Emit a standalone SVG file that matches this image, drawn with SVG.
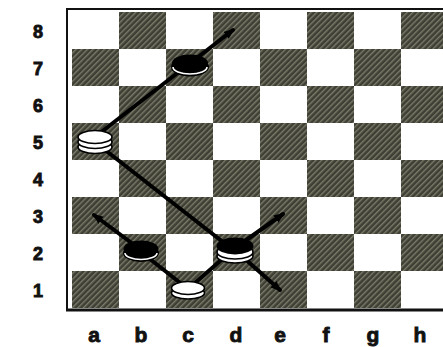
<svg xmlns="http://www.w3.org/2000/svg" width="443" height="347" viewBox="0 0 443 347">
<defs>
<pattern id="hatch" patternUnits="userSpaceOnUse" width="4" height="4" patternTransform="rotate(-45)">
<rect width="4" height="4" fill="#3e3e35"/>
<rect width="4" height="1.4" fill="#7c7c6a"/>
</pattern>
<marker id="ah" viewBox="0 0 10 8" refX="8" refY="4" markerWidth="11" markerHeight="9" markerUnits="userSpaceOnUse" orient="auto">
<path d="M0,0 L10,4 L0,8 z" fill="#000"/>
</marker>
<style>
.dk{fill:url(#hatch)}
.ln{stroke:#000;stroke-width:4;fill:none;stroke-linecap:round}
.arr{marker-end:url(#ah)}
.lbl{font-family:"Liberation Sans",Arial,sans-serif;font-weight:bold;fill:#111;stroke:#111;stroke-width:0.9;text-anchor:middle}
.dg{font-size:18px}
.lt{font-size:21px}
.wp{fill:#fff;stroke:#000;stroke-width:1.6}
.bp{fill:#000}
.ring{fill:none;stroke:#fff;stroke-width:1.6}
</style>
</defs>
<rect width="443" height="347" fill="#fff"/>
<g id="board">
<rect x="72" y="12" width="376" height="296" fill="#fff"/>
<rect class="dk" x="119" y="12" width="47" height="37"/>
<rect class="dk" x="213" y="12" width="47" height="37"/>
<rect class="dk" x="307" y="12" width="47" height="37"/>
<rect class="dk" x="401" y="12" width="47" height="37"/>
<rect class="dk" x="72" y="49" width="47" height="37"/>
<rect class="dk" x="166" y="49" width="47" height="37"/>
<rect class="dk" x="260" y="49" width="47" height="37"/>
<rect class="dk" x="354" y="49" width="47" height="37"/>
<rect class="dk" x="119" y="86" width="47" height="37"/>
<rect class="dk" x="213" y="86" width="47" height="37"/>
<rect class="dk" x="307" y="86" width="47" height="37"/>
<rect class="dk" x="401" y="86" width="47" height="37"/>
<rect class="dk" x="72" y="123" width="47" height="37"/>
<rect class="dk" x="166" y="123" width="47" height="37"/>
<rect class="dk" x="260" y="123" width="47" height="37"/>
<rect class="dk" x="354" y="123" width="47" height="37"/>
<rect class="dk" x="119" y="160" width="47" height="37"/>
<rect class="dk" x="213" y="160" width="47" height="37"/>
<rect class="dk" x="307" y="160" width="47" height="37"/>
<rect class="dk" x="401" y="160" width="47" height="37"/>
<rect class="dk" x="72" y="197" width="47" height="37"/>
<rect class="dk" x="166" y="197" width="47" height="37"/>
<rect class="dk" x="260" y="197" width="47" height="37"/>
<rect class="dk" x="354" y="197" width="47" height="37"/>
<rect class="dk" x="119" y="234" width="47" height="37"/>
<rect class="dk" x="213" y="234" width="47" height="37"/>
<rect class="dk" x="307" y="234" width="47" height="37"/>
<rect class="dk" x="401" y="234" width="47" height="37"/>
<rect class="dk" x="72" y="271" width="47" height="37"/>
<rect class="dk" x="166" y="271" width="47" height="37"/>
<rect class="dk" x="260" y="271" width="47" height="37"/>
<rect class="dk" x="354" y="271" width="47" height="37"/>
<path d="M67,310 L67,9 L452,9" fill="none" stroke="#111" stroke-width="2"/>
<line x1="66" y1="310" x2="452" y2="310" stroke="#111" stroke-width="3"/>
</g>
<g id="labels" class="lbl">
<text class="dg" x="38" y="38">8</text>
<text class="dg" x="38" y="75">7</text>
<text class="dg" x="38" y="112">6</text>
<text class="dg" x="38" y="149">5</text>
<text class="dg" x="38" y="186">4</text>
<text class="dg" x="38" y="223">3</text>
<text class="dg" x="38" y="260">2</text>
<text class="dg" x="38" y="297">1</text>
<text class="lt" x="94" y="342">a</text>
<text class="lt" x="141" y="342">b</text>
<text class="lt" x="188" y="342">c</text>
<text class="lt" x="236" y="342">d</text>
<text class="lt" x="280" y="342">e</text>
<text class="lt" x="326" y="342">f</text>
<text class="lt" x="373" y="342">g</text>
<text class="lt" x="420" y="342">h</text>
</g>
<g id="connectors">
<line class="ln arr" x1="100" y1="133" x2="233" y2="30"/>
<line class="ln" x1="100" y1="146" x2="228" y2="246"/>
<line class="ln arr" x1="141" y1="250" x2="94" y2="215"/>
<line class="ln" x1="141" y1="252" x2="188" y2="289"/>
<line class="ln" x1="188" y1="289" x2="235" y2="248"/>
<line class="ln arr" x1="235" y1="248" x2="283" y2="214"/>
<line class="ln arr" x1="235" y1="250" x2="280" y2="290"/>
</g>
<g id="piece-c7">
<ellipse cx="190" cy="67" rx="19" ry="9.5" class="bp"/>
<path d="M173,67 A17,7 0 0 0 207,67" class="ring"/>
<ellipse cx="190" cy="63" rx="18" ry="8.5" class="bp"/>
</g>
<g id="piece-a5">
<ellipse cx="95" cy="147" rx="17" ry="6.5" class="wp"/>
<ellipse cx="95" cy="142" rx="17" ry="6.5" class="wp"/>
<ellipse cx="95" cy="137" rx="17" ry="6.5" class="wp"/>
</g>
<g id="piece-b2">
<ellipse cx="141" cy="253" rx="18" ry="9" class="bp"/>
<path d="M125,253 A16,6.5 0 0 0 157,253" class="ring"/>
<ellipse cx="141" cy="249" rx="17.5" ry="8.5" class="bp"/>
</g>
<g id="piece-c1">
<ellipse cx="188" cy="293" rx="16.5" ry="6" class="wp"/>
<ellipse cx="188" cy="288" rx="16.5" ry="6.5" class="wp"/>
</g>
<g id="piece-d2">
<ellipse cx="235" cy="256" rx="18" ry="7" class="wp"/>
<ellipse cx="235" cy="252" rx="18" ry="7" class="wp"/>
<ellipse cx="235" cy="246" rx="18.5" ry="8.5" class="bp"/>
</g>
</svg>
